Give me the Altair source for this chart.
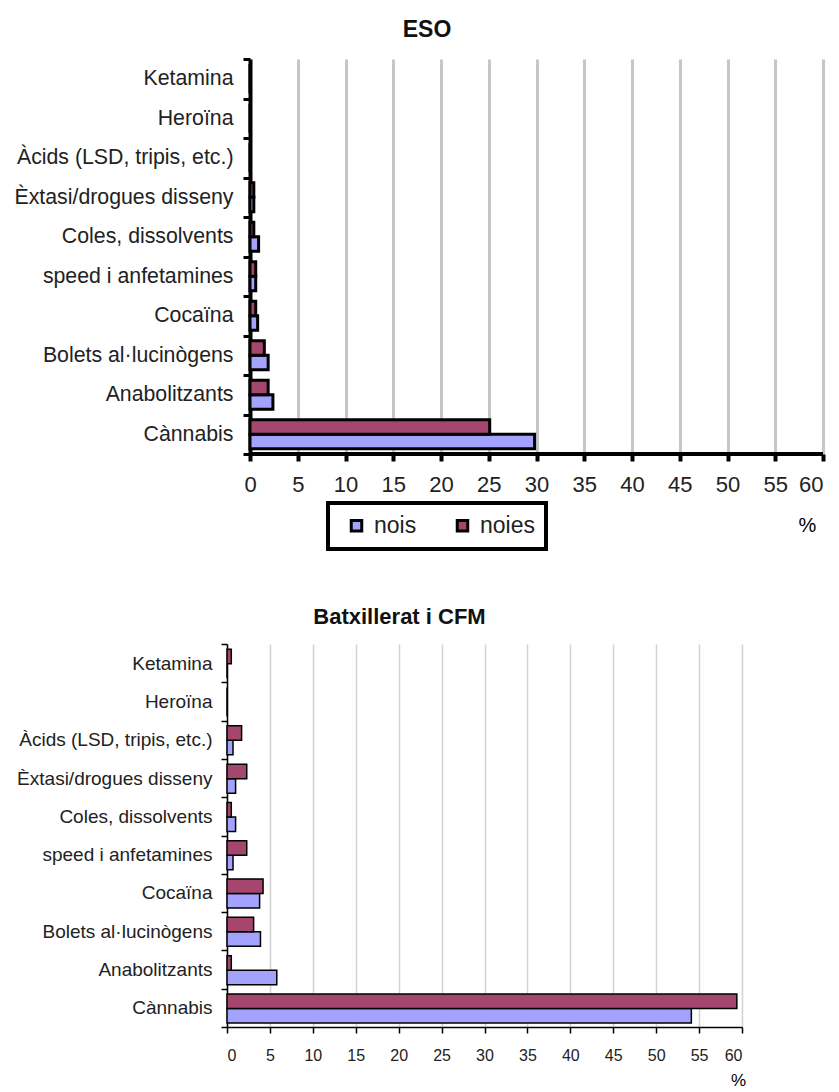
import altair as alt
import pandas as pd

categories = [
    "Ketamina",
    "Heroïna",
    "Àcids (LSD, tripis, etc.)",
    "Èxtasi/drogues disseny",
    "Coles, dissolvents",
    "speed i anfetamines",
    "Cocaïna",
    "Bolets al·lucinògens",
    "Anabolitzants",
    "Cànnabis",
]
eso_nois = [0, 0, 0, 0.4, 0.9, 0.6, 0.8, 1.9, 2.4, 29.8]
eso_noies = [0, 0, 0, 0.4, 0.4, 0.6, 0.6, 1.5, 1.9, 25.1]
bat_nois = [0, 0, 0.7, 1.0, 1.0, 0.7, 3.8, 3.9, 5.8, 54.1]
bat_noies = [0.5, 0, 1.7, 2.3, 0.5, 2.3, 4.2, 3.1, 0.5, 59.4]
series = ["nois", "noies"]
colors = ["#A3A3FD", "#A5466F"]
x_ticks = list(range(0, 61, 5))
x_min, x_max = 0, 60


def make_df(nois, noies):
    rows = []
    for c, a, b in zip(categories, nois, noies):
        rows.append({"cat": c, "sex": "nois", "value": a})
        rows.append({"cat": c, "sex": "noies", "value": b})
    return pd.DataFrame(rows)


df_eso = make_df(eso_nois, eso_noies)
df_bat = make_df(bat_nois, bat_noies)

FONT = "Liberation Sans"

# top panel: the plot frame starts 23 px left of its value axis so that the
# two panels keep the reference's different left edges
TOP_W, TOP_H, SHIFT = 596, 395, 23
top_lo = -(x_max * SHIFT) / (TOP_W - SHIFT)

top_x_scale = alt.Scale(domain=[top_lo, x_max], nice=False, zero=False)

top_bars = alt.Chart(df_eso).mark_bar(stroke="black", strokeWidth=3).encode(
    x=alt.X(
        "value:Q",
        scale=top_x_scale,
        axis=alt.Axis(
            values=x_ticks, title="%", titleFontSize=20, titleFontWeight="normal",
            titleX=580, titleY=71, titleAlign="center", titleBaseline="middle",
            labelFontSize=22, labelColor="#222", labelPadding=13, domain=False,
            tickColor="black", tickWidth=4, tickSize=7,
            gridColor="#C6C6C6", gridWidth=3,
        ),
    ),
    y=alt.Y(
        "cat:N", sort=categories,
        scale=alt.Scale(paddingInner=0, paddingOuter=0),
        axis=alt.Axis(
            title=None, labelFontSize=21.3, labelColor="#222", labelPadding=10,
            labelLimit=400, offset=-SHIFT,
            tickBand="extent", domainColor="black", domainWidth=4,
            tickColor="black", tickWidth=3, tickSize=7, grid=False,
        ),
    ),
    yOffset=alt.YOffset("sex:N", sort=["noies", "nois"],
                        scale=alt.Scale(paddingInner=0, paddingOuter=0.36)),
    color=alt.Color(
        "sex:N",
        scale=alt.Scale(domain=series, range=colors),
        legend=alt.Legend(
            orient="none", legendX=101, legendY=444, direction="horizontal",
            title=None, labelFontSize=23, labelColor="#222", symbolType="square",
            symbolSize=110, symbolStrokeColor="black", symbolStrokeWidth=3,
            symbolOpacity=1, strokeColor="black", padding=11, columnPadding=28,
            labelOffset=6, symbolOffset=6,
        ),
    ),
)

axis_line = alt.Chart(pd.DataFrame({"a": [x_min], "b": [x_max]})).mark_rule(
    color="black", strokeWidth=4
).encode(
    x=alt.X("a:Q", scale=top_x_scale),
    x2="b:Q",
    y=alt.value(TOP_H),
)

top = alt.layer(top_bars, axis_line).properties(
    width=TOP_W, height=TOP_H,
    title=alt.TitleParams("ESO", fontSize=23, fontWeight="bold", anchor="middle",
                          dx=-98, offset=6, color="#111"),
)

bottom = alt.Chart(df_bat).mark_bar(stroke="black", strokeWidth=1.5).encode(
    x=alt.X(
        "value:Q",
        scale=alt.Scale(domain=[x_min, x_max], nice=False),
        axis=alt.Axis(
            values=x_ticks, title="%", titleFontSize=17, titleFontWeight="normal",
            titleX=511, titleY=53, titleAlign="center", titleBaseline="middle",
            labelFontSize=16, labelColor="#222", labelPadding=14,
            domainColor="black", domainWidth=1.5, tickColor="black", tickWidth=1.5, tickSize=6,
            gridColor="#D2D2D2", gridWidth=1.5,
        ),
    ),
    y=alt.Y(
        "cat:N", sort=categories,
        scale=alt.Scale(paddingInner=0, paddingOuter=0),
        axis=alt.Axis(
            title=None, labelFontSize=19, labelColor="#222", labelPadding=9,
            labelLimit=400,
            tickBand="extent", domainColor="black", domainWidth=1.5,
            tickColor="black", tickWidth=1.5, tickSize=6, grid=False,
        ),
    ),
    yOffset=alt.YOffset("sex:N", sort=["noies", "nois"],
                        scale=alt.Scale(paddingInner=0, paddingOuter=0.67)),
    color=alt.Color("sex:N", scale=alt.Scale(domain=series, range=colors), legend=None),
).properties(
    width=515, height=383,
    title=alt.TitleParams("Batxillerat i CFM", fontSize=22, fontWeight="bold",
                          anchor="middle", dx=-85, offset=6, color="#111"),
)

chart = alt.vconcat(top, bottom, spacing=71).resolve_scale(
    x="independent", y="independent"
).configure(font=FONT, padding={"left": 5, "top": 11, "right": 5, "bottom": 0}).configure_view(
    stroke=None
).configure_legend(strokeWidth=4)

chart.save("out.html", embed_options={"renderer": "svg", "actions": False})
